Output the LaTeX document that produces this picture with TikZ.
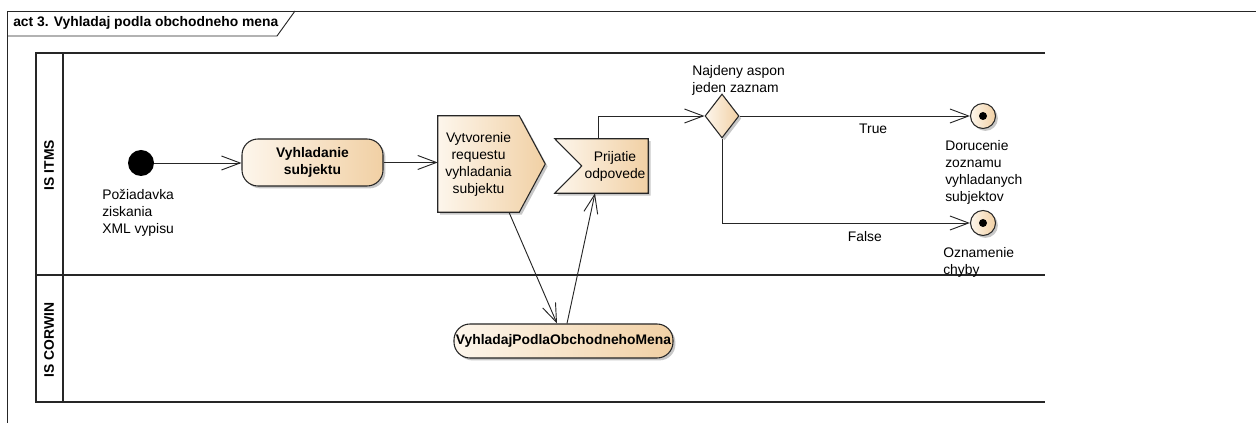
\documentclass[tikz,border=0pt]{standalone}
\usepackage{fontspec}
\setmainfont{Liberation Sans}
\usetikzlibrary{arrows.meta,shapes.geometric,shadows,backgrounds}
\definecolor{cL}{HTML}{FDF6EC}
\definecolor{cR}{HTML}{F1D0A4}
\definecolor{ln}{HTML}{262626}
\newcommand\fnt{\fontsize{10.4}{12.75}\selectfont}
\tikzset{
  conn/.style={draw=ln, line width=0.7pt, -{Straight Barb[length=14pt,width=10.5pt]}},
  lane/.style={draw=ln, line width=1.1pt},
  fillgrad/.style={left color=cL, right color=cR},
  shad/.style={drop shadow={shadow xshift=1.8pt, shadow yshift=-1.8pt, opacity=0.22, fill=black}},
  outl/.style={draw=ln, line width=0.8pt},
  actbox/.style={rectangle, rounded corners=12pt, outl, fillgrad, shad, font=\fnt\bfseries, align=center, inner sep=1pt},
  txt/.style={font=\fnt, inner sep=0pt},
  lbl/.style={font=\fnt, align=left, inner sep=0pt, anchor=north west},
  holder/.style={font=\fnt, align=center, inner sep=0pt, draw=none},
}
\begin{document}
\begin{tikzpicture}[x=0.75pt,y=-0.75pt]
\useasboundingbox (0,0) rectangle (1256,423);
% frame
\draw[ln, line width=0.7pt] (7,423) -- (7,11) -- (1256,11);
\draw[ln, line width=0.7pt] (7,36) -- (277,36) -- (295,11);
\node[txt, font=\fnt\bfseries, anchor=base west] (title) at (13,27) {act 3. Vyhladaj podla obchodneho mena};
% swimlanes
\draw[lane] (1045,53) -- (36,53) -- (36,402) -- (1045,402);
\draw[lane] (63,53) -- (63,402);
\draw[lane] (36,275) -- (1045,275);
\node[txt, font=\fnt\bfseries, rotate=90] (lane1) at (49,165) {IS ITMS};
\node[txt, font=\fnt\bfseries, rotate=90] (lane2) at (49,340) {IS CORWIN};
% nodes
\node[circle, fill=black, minimum size=19.5pt, inner sep=0pt] (init) at (141,163) {};
\node[lbl] (initl) at (102,189) {Požiadavka\\ziskania\\XML vypisu};
\node[actbox, minimum width=105.75pt, minimum height=35.25pt] (vyh) at (312.5,162.5) {Vyhladanie\\subjektu};
\node[holder, minimum width=60.75pt, minimum height=72pt] (vyt) at (478.5,164) {Vytvorenie\\requestu\\vyhladania\\subjektu};
\node[holder, minimum width=49.5pt, minimum height=40.5pt] (prij) at (615,166) {Prijatie\\odpovede};
\begin{scope}[on background layer]
\path[outl, fillgrad, shad] (vyt.north west) -- (vyt.north east) -- ([xshift=19.5pt]vyt.east) -- (vyt.south east) -- (vyt.south west) -- cycle;
\path[outl, fillgrad, shad] ([xshift=-20.25pt]prij.north west) -- (prij.north east) -- (prij.south east) -- ([xshift=-20.25pt]prij.south west) -- (prij.west) -- cycle;
\end{scope}
\node[diamond, outl, fillgrad, shad, minimum width=25.5pt, minimum height=33pt, inner sep=0pt] (dec) at (722,116) {};
\node[lbl] (decl) at (692,65) {Najdeny aspon\\jeden zaznam};
\node[circle, outl, fillgrad, shad, minimum size=18.75pt, inner sep=0pt,
  path picture={\fill[black] (path picture bounding box.center) circle (3pt);}] (fin1) at (983,116) {};
\node[circle, outl, fillgrad, shad, minimum size=18.75pt, inner sep=0pt,
  path picture={\fill[black] (path picture bounding box.center) circle (3pt);}] (fin2) at (983,223) {};
\node[lbl] (fin1l) at (945,140) {Dorucenie\\zoznamu\\vyhladanych\\subjektov};
\node[lbl] (fin2l) at (943,247) {Oznamenie\\chyby};
\node[actbox, minimum width=164.25pt, minimum height=25.5pt] (vpom) at (563.5,341) {VyhladajPodlaObchodnehoMena};
% connectors
\draw[conn] (init) -- (init -| vyh.west);
\draw[conn] (vyh.east) -- (vyh.east -| vyt.west);
\draw[conn] ([xshift=22.875pt]vyt.south) -- ([xshift=-4.875pt]vpom.north);
\draw[conn] ([xshift=2.625pt]vpom.north) -- ([xshift=-15pt]prij.south);
\draw[conn] ([xshift=-12.75pt]prij.north) |- (dec.west);
\draw[conn] (dec.east) -- node[txt, pos=0.58, anchor=north, yshift=-5.25pt] (truel) {True} (fin1.west);
\draw[conn] (dec.south) |- node[txt, pos=0.788, anchor=north, yshift=-6pt] (falsel) {False} (fin2.west);
\end{tikzpicture}
\end{document}
